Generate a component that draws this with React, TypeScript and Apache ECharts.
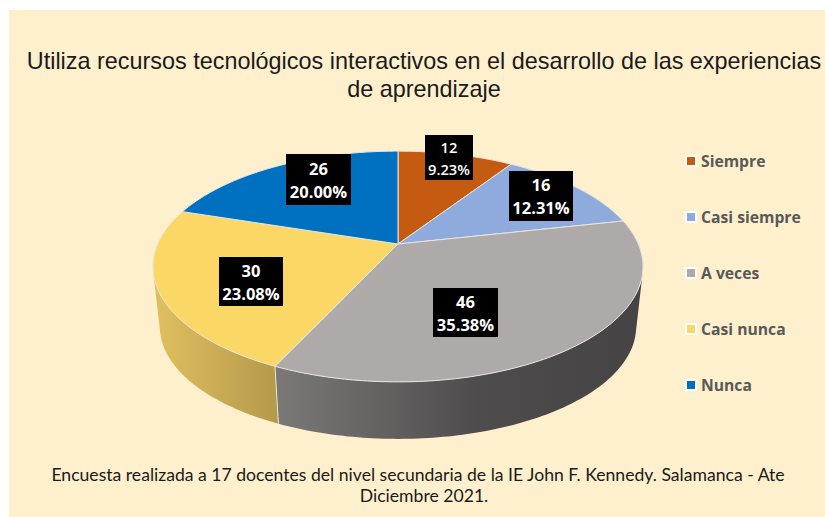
import React, { useEffect, useRef } from "react";
import * as echarts from "echarts";

const categories = ["Siempre", "Casi siempre", "A veces", "Casi nunca", "Nunca"];
const counts = [12, 16, 46, 30, 26];
const percentLabels = ["9.23%", "12.31%", "35.38%", "23.08%", "20.00%"];
const sliceColors = ["#c55a11", "#8faadc", "#aeaaaa", "#fbd766", "#0070c0"];
const titleText =
  "Utiliza recursos tecnológicos interactivos en el desarrollo de las experiencias\nde aprendizaje";
const footLines = [
  "Encuesta realizada a 17 docentes del nivel secundaria de la IE John F. Kennedy. Salamanca - Ate",
  "Diciembre 2021.",
];
const footCentres = [418, 424];

// label box centres and sizes (x, y, w, h)
const labelBoxes = [
  [449, 157.5, 48, 45],
  [541, 196, 64, 50],
  [465.5, 312.5, 65, 49],
  [251, 281.5, 64, 49],
  [318.5, 179.5, 65, 51],
];

// perspective disc: apex of the pie, and homography of the unit circle
const CX = 398;
const CY = 244;
const A = 240.3;
const B = 111;
const K = 0.195;
const DEPTH_SCALE = 0.972;
const VANISH_Y = 2418;

const TAU = Math.PI * 2;
const total = counts.reduce((s, v) => s + v, 0);
const rim = (theta: number) => {
  const u = Math.sin(theta);
  const v = -Math.cos(theta);
  const d = 1 - K * v;
  return [CX + (A * u) / d, CY + (B * v) / d];
};
const lower = (p: number[]) => [
  CX + DEPTH_SCALE * (p[0] - CX),
  VANISH_Y + DEPTH_SCALE * (p[1] - VANISH_Y),
];
const startAngle = (i: number) =>
  (counts.slice(0, i).reduce((s, v) => s + v, 0) / total) * TAU;
const endAngle = (i: number) => startAngle(i) + (counts[i] / total) * TAU;
const arcBetween = (a0: number, a1: number) => {
  const n = Math.max(2, Math.round(((a1 - a0) * 180) / Math.PI));
  const pts: number[][] = [];
  for (let k = 0; k <= n; k++) pts.push(rim(a0 + ((a1 - a0) * k) / n));
  return pts;
};

// the rim points where the extrusion's silhouette leaves the disc
const lean = (t: number) => {
  const p = rim(t);
  return (p[0] - CX) / (VANISH_Y - p[1]);
};
let visibleFrom = 0;
let visibleTo = 0;
for (let t = 0; t < TAU; t += 0.002) {
  if (lean(t) > lean(visibleFrom)) visibleFrom = t;
  if (lean(t) < lean(visibleTo)) visibleTo = t;
}

const sideFills: Record<number, any> = {
  2: new echarts.graphic.LinearGradient(277, 0, 640, 0, [
    { offset: 0, color: "#7b7878" },
    { offset: 0.55, color: "#4e4c4c" },
    { offset: 1, color: "#454344" },
  ], true),
  3: new echarts.graphic.LinearGradient(155, 0, 280, 0, [
    { offset: 0, color: "#e0bf5f" },
    { offset: 1, color: "#b4994b" },
  ], true),
};

export default function App() {
  const ref = useRef<HTMLDivElement>(null);
  useEffect(() => {
    document.body.style.margin = "0";
    const chart = echarts.init(ref.current!, undefined, { renderer: "svg" });

    const sideSeries: any = {
      type: "custom",
      name: "lateral",
      coordinateSystem: "none",
      silent: true,
      z: 2,
      data: counts.map((v, i) => [i, v]),
      renderItem: (_: any, api: any) => {
        const i = api.value(0);
        const a0 = Math.max(startAngle(i), visibleFrom);
        const a1 = Math.min(endAngle(i), visibleTo);
        if (a1 <= a0) return { type: "group", children: [] };
        const top = arcBetween(a0, a1);
        const bottom = top.map(lower).reverse();
        const children: any[] = [
          {
            type: "polygon",
            shape: { points: [...top, ...bottom] },
            style: { fill: sideFills[i] || sliceColors[i] },
          },
        ];
        if (startAngle(i) > visibleFrom) {
          const p = rim(startAngle(i));
          const q = lower(p);
          children.push({
            type: "line",
            shape: { x1: p[0], y1: p[1], x2: q[0], y2: q[1] },
            style: { stroke: "#e9e5dc", lineWidth: 1 },
          });
        }
        return { type: "group", children };
      },
    };

    const topSeries: any[] = categories.map((name, i) => ({
      type: "custom",
      name,
      coordinateSystem: "none",
      silent: true,
      z: 3,
      itemStyle: { color: sliceColors[i] },
      data: [[i, counts[i]]],
      renderItem: () => ({
        type: "polygon",
        shape: { points: [[CX, CY], ...arcBetween(startAngle(i), endAngle(i))] },
        style: { fill: sliceColors[i], stroke: "#e9e5dc", lineWidth: 1 },
      }),
    }));

    const labelSeries: any = {
      type: "custom",
      name: "etiquetas",
      coordinateSystem: "none",
      silent: true,
      z: 4,
      data: counts.map((v, i) => [i, v]),
      renderItem: (_: any, api: any) => {
        const i = api.value(0);
        const [x, y, w, h] = labelBoxes[i];
        return {
          type: "group",
          children: [
            {
              type: "rect",
              shape: { x: x - w / 2, y: y - h / 2, width: w, height: h },
              style: { fill: "#000000" },
            },
            {
              type: "text",
              style: {
                x,
                y,
                text: `${api.value(1)}\n${percentLabels[i]}`,
                fill: "#ffffff",
                font: `${i === 0 ? 600 : 700} ${i === 0 ? 14.7 : 16.5}px "Open Sans"`,
                lineHeight: i === 0 ? 22 : 23,
                align: "center",
                verticalAlign: "middle",
              },
            },
          ],
        };
      },
    };

    chart.setOption({
      animation: false,
      backgroundColor: "#ffffff",
      title: {
        text: titleText,
        left: 419,
        top: 42,
        textAlign: "center",
        textStyle: {
          fontFamily: "Liberation Sans",
          fontWeight: "normal",
          fontSize: 23.4,
          lineHeight: 28,
          color: "#1a1a1a",
        },
      },
      legend: {
        data: categories,
        orient: "vertical",
        left: 685,
        top: 151,
        padding: 0,
        icon: "rect",
        itemWidth: 10,
        itemHeight: 10,
        itemGap: 36,
        itemStyle: { borderColor: "#ffffff", borderWidth: 2 },
        selectedMode: false,
        textStyle: {
          fontFamily: "Open Sans",
          fontWeight: 700,
          fontSize: 15.7,
          color: "#595959",
          padding: [0, 0, 0, 0],
          height: 20,
          lineHeight: 20,
        },
      },
      graphic: [
        {
          type: "rect",
          z: -10,
          shape: { x: 9, y: 10, width: 816, height: 507 },
          style: { fill: "#fff0cd" },
        },
        ...footLines.map((t, i) => ({
          type: "text",
          z: 5,
          x: footCentres[i],
          y: 474 + i * 21,
          style: {
            text: t,
            fill: "#1a1a1a",
            font: '17.6px "Lato"',
            align: "center",
            verticalAlign: "middle",
          },
        })),
      ],
      series: [sideSeries, ...topSeries, labelSeries],
    });
    return () => chart.dispose();
  }, []);
  return <div ref={ref} style={{ width: 825, height: 517 }} />;
}
